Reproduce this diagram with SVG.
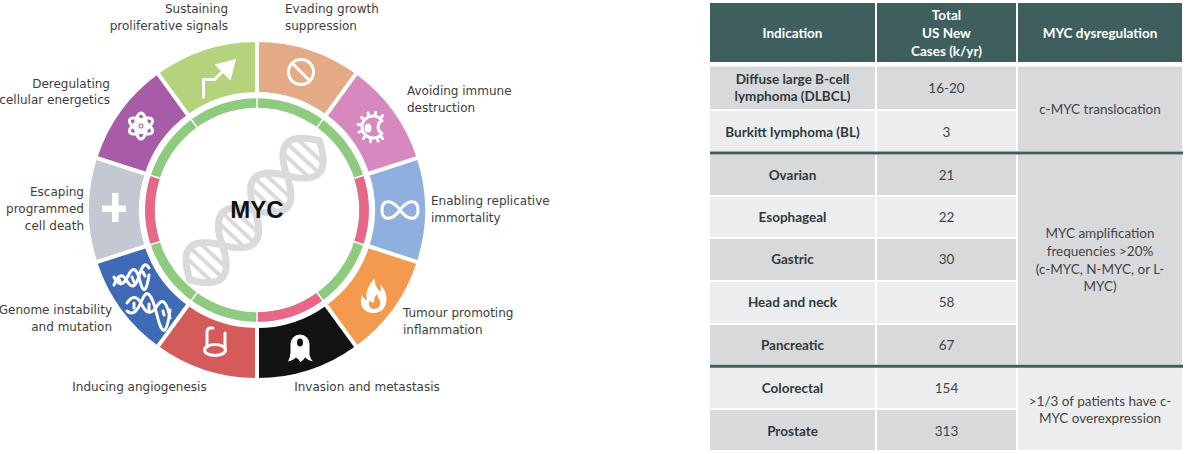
<svg xmlns="http://www.w3.org/2000/svg" width="1188" height="454" viewBox="0 0 1188 454">
<style>
.lbl{font-family:"DejaVu Sans",Verdana,sans-serif;font-size:12px;fill:#3d3d3d}
.r{text-anchor:end}
.ic{fill:none;stroke:#fff;stroke-width:3;stroke-linecap:round;stroke-linejoin:round}
.icf{fill:#fff}
.sep{stroke:#fff;stroke-width:4}
.rsep{stroke:#fff;stroke-width:1.5}
.th{font-family:Lato,"Liberation Sans",sans-serif;font-size:13.5px;font-weight:bold;fill:#fff;text-anchor:middle}
.tb{font-family:Lato,"Liberation Sans",sans-serif;font-size:13.5px;font-weight:bold;fill:#2f3a3a;text-anchor:middle}
.tn{font-family:Lato,"Liberation Sans",sans-serif;font-size:13.5px;fill:#454545;text-anchor:middle}
.dk{fill:#d8d9db}
.lt{fill:#ecedef}
.hd{fill:#3e5f5e}
.bar{stroke:#3e5c5b;stroke-width:3}
</style>
<rect width="1188" height="454" fill="#fff"/>

<!-- DNA watermark -->
<g id="dna" fill="none" stroke="#dadada" stroke-linecap="round">
<path stroke-width="7" d="M190 280 Q238.4 292.51 222.3 245.18 Q206.2 197.85 254.6 210.37 Q303 222.88 286.9 175.55 Q270.8 128.22 319.2 140.73"/>
<path stroke-width="7" d="M190 280 Q173.9 232.67 222.3 245.18 Q270.7 257.69 254.6 210.37 Q238.5 163.04 286.9 175.55 Q335.3 188.06 319.2 140.73"/>
<path stroke-width="4" d="M210.42 280.19L188.28 259.65M220.08 275.51L192.22 249.67M224.02 265.53L201.88 244.99M242.72 245.37L220.58 224.83M252.38 240.69L224.52 214.85M256.32 230.71L234.18 210.17M275.02 210.56L252.88 190.02M284.68 205.88L256.82 180.04M288.62 195.9L266.48 175.36M307.32 175.74L285.18 155.2M316.98 171.06L289.12 145.22M320.92 161.08L298.78 140.54"/>
</g>

<!-- inner ring -->
<g id="ring">
<circle cx="257" cy="210" r="107" fill="none" stroke="#8fcb7f" stroke-width="9.5"/>
<g fill="none" stroke="#e8668a" stroke-width="9.5">
<path d="M358.77 176.94A107 107 0 0 1 358.77 243.06"/>
<path d="M319.89 296.56A107 107 0 0 1 257 317"/>
<path d="M155.23 243.06A107 107 0 0 1 155.23 176.94"/>
</g>
<g class="rsep">
<line x1="257" y1="109" x2="257" y2="97"/>
<line x1="316.37" y1="128.29" x2="323.42" y2="118.58"/>
<line x1="353.06" y1="178.79" x2="364.47" y2="175.08"/>
<line x1="353.06" y1="241.21" x2="364.47" y2="244.92"/>
<line x1="316.37" y1="291.71" x2="323.42" y2="301.42"/>
<line x1="257" y1="311" x2="257" y2="323"/>
<line x1="197.63" y1="291.71" x2="190.58" y2="301.42"/>
<line x1="160.94" y1="241.21" x2="149.53" y2="244.92"/>
<line x1="160.94" y1="178.79" x2="149.53" y2="175.08"/>
<line x1="197.63" y1="128.29" x2="190.58" y2="118.58"/>
</g>
</g>

<text id="myc" x="257" y="218" text-anchor="middle" font-family="'Liberation Sans',Arial,sans-serif" font-size="24" font-weight="bold" fill="#111">MYC</text>

<g id="evading">
<path fill="#e3aa85" d="M257 42A168 168 0 0 1 355.75 74.09L326.36 114.54A118 118 0 0 0 257 92Z"/>
<circle class="ic" cx="301" cy="72" r="12.5" stroke-width="3.5"/>
<line class="ic" x1="292.2" y1="63.2" x2="309.8" y2="80.8" stroke-width="3.5"/>
<text class="lbl" x="285" y="13">Evading growth</text>
<text class="lbl" x="285" y="30">suppression</text>
</g>

<g id="avoiding">
<path fill="#d688bf" d="M355.75 74.09A168 168 0 0 1 416.78 158.09L369.23 173.54A118 118 0 0 0 326.36 114.54Z"/>
<path class="ic" stroke-width="2.5" d="M382 120.7A11 11 0 1 0 382 133.3A7 7 0 0 1 382 120.7Z"/>
<path class="ic" stroke-width="1.5" d="M381 117.4L382.6 115.5M375.2 114.7L375.6 112.2M368.7 115.3L367.9 112.9M363.4 119L361.5 117.4M360.7 124.8L358.2 124.4M361.3 131.3L358.9 132.1M365 136.6L363.4 138.5M370.8 139.3L370.4 141.8M377.3 138.7L378.1 141.1M381 136.6L382.6 138.5"/>
<ellipse class="icf" cx="368" cy="128" rx="3.5" ry="4.5"/>
<text class="lbl" x="407" y="95">Avoiding immune</text>
<text class="lbl" x="407" y="112">destruction</text>
</g>

<g id="enabling">
<path fill="#8fb0df" d="M416.78 158.09A168 168 0 0 1 416.78 261.91L369.23 246.46A118 118 0 0 0 369.23 173.54Z"/>
<path class="ic" stroke-width="4" d="M400 210C408 199 418 199 418 210C418 221 408 221 400 210C392 199 382 199 382 210C382 221 392 221 400 210Z"/>
<text class="lbl" x="431" y="205">Enabling replicative</text>
<text class="lbl" x="431" y="222">immortality</text>
</g>

<g id="tumour">
<path fill="#f39a4e" d="M416.78 261.91A168 168 0 0 1 355.75 345.91L326.36 305.46A118 118 0 0 0 369.23 246.46Z"/>
<path class="icf" d="M372 313C362 312 359 303 362 295C364 299 366 300 367 300C365 293 368 285 375 278C374 285 378 289 380 292C381 289 381 287 380 284C386 290 389 300 384 308C381 312 377 313 372 313Z"/>
<path fill="#f39a4e" d="M373 309C369 308 368 304 370 300C371 303 373 303 374 302C374 298 375 296 377 294C378 298 381 301 380 305C379 308 376 309 373 309Z"/>
<text class="lbl" x="403" y="317">Tumour promoting</text>
<text class="lbl" x="403" y="334">inflammation</text>
</g>

<g id="invasion">
<path fill="#121212" d="M355.75 345.91A168 168 0 0 1 257 378L257 328A118 118 0 0 0 326.36 305.46Z"/>
<path class="icf" d="M290.5 344A9.5 9.5 0 0 1 309.5 344L309.5 355Q310.5 359 313 361.5Q308 360.5 305 357.5Q303 361 300.5 362Q298.5 358.5 296 357.5Q292.5 361 288 361.5Q290.5 357 290.5 352Z"/>
<ellipse cx="300" cy="342.5" rx="3" ry="4" fill="#121212"/>
<text class="lbl" x="367" y="391" text-anchor="middle">Invasion and metastasis</text>
</g>

<g id="inducing">
<path fill="#d55a5a" d="M257 378A168 168 0 0 1 158.25 345.91L187.64 305.46A118 118 0 0 0 257 328Z"/>
<path class="ic" d="M207 347L207 332Q207 328 211 328L213 328M225 333L225 348"/>
<ellipse class="ic" cx="215" cy="350" rx="10.5" ry="5.5"/>
<text class="lbl" x="139.5" y="391" text-anchor="middle">Inducing angiogenesis</text>
</g>

<g id="genome">
<path fill="#3f6bb6" d="M158.25 345.91A168 168 0 0 1 97.22 261.91L144.77 246.46A118 118 0 0 0 187.64 305.46Z"/>
<path class="ic" stroke-width="1.8" d="M114 285Q120 269 127 281T139 276T149 268M114 277Q121 291 128 276T140 281T149 275M119 279L121 284M132 277L134 282M143 272L145 276"/>
<path class="ic" stroke-width="1.8" d="M127 303Q135 291 142 305T157 306T170 318M127 311Q135 318 142 300T157 315T170 310M134 303L134 308M149 304L149 311M163 311L164 315"/>
<text class="lbl r" x="112" y="314">Genome instability</text>
<text class="lbl r" x="112" y="331">and mutation</text>
</g>

<g id="escaping">
<path fill="#c3c8d3" d="M97.22 261.91A168 168 0 0 1 97.22 158.09L144.77 173.54A118 118 0 0 0 144.77 246.46Z"/>
<rect class="icf" x="112" y="193" width="6.5" height="29"/>
<rect class="icf" x="102" y="205.5" width="24" height="6.5"/>
<text class="lbl r" x="84" y="196">Escaping</text>
<text class="lbl r" x="84" y="213">programmed</text>
<text class="lbl r" x="84" y="230">cell death</text>
</g>

<g id="deregulating">
<path fill="#a65ca6" d="M97.22 158.09A168 168 0 0 1 158.25 74.09L187.64 114.54A118 118 0 0 0 144.77 173.54Z"/>
<g class="ic" stroke-width="2.2">
<ellipse cx="141" cy="126" rx="13" ry="5.5" transform="rotate(90 141 126)"/>
<ellipse cx="141" cy="126" rx="13" ry="5.5" transform="rotate(30 141 126)"/>
<ellipse cx="141" cy="126" rx="13" ry="5.5" transform="rotate(150 141 126)"/>
<circle cx="141" cy="126" r="4"/>
</g>
<circle class="icf" cx="141" cy="126" r="1.5"/>
<text class="lbl r" x="110" y="88">Deregulating</text>
<text class="lbl r" x="110" y="104">cellular energetics</text>
</g>

<g id="sustaining">
<path fill="#b5d37d" d="M158.25 74.09A168 168 0 0 1 257 42L257 92A118 118 0 0 0 187.64 114.54Z"/>
<path class="ic" stroke-width="6" stroke-linecap="butt" stroke-linejoin="miter" d="M203.5 97L203.5 79.5L214.5 79.5L223 71"/>
<polygon class="icf" points="236,59 214.5,64.5 230.5,80.5"/>
<text class="lbl r" x="228" y="13">Sustaining</text>
<text class="lbl r" x="228" y="30">proliferative signals</text>
</g>

<!-- segment separators -->
<g id="connectors" class="sep">
<line x1="257" y1="96" x2="257" y2="38"/>
<line x1="324.01" y1="117.77" x2="358.1" y2="70.85"/>
<line x1="365.43" y1="174.77" x2="420.59" y2="156.85"/>
<line x1="365.43" y1="245.23" x2="420.59" y2="263.15"/>
<line x1="324.01" y1="302.23" x2="358.1" y2="349.15"/>
<line x1="257" y1="324" x2="257" y2="382"/>
<line x1="189.99" y1="302.23" x2="155.9" y2="349.15"/>
<line x1="148.57" y1="245.23" x2="93.41" y2="263.15"/>
<line x1="148.57" y1="174.77" x2="93.41" y2="156.85"/>
<line x1="189.99" y1="117.77" x2="155.9" y2="70.85"/>
</g>

<!-- table -->
<g id="table-header">
<rect class="hd" x="710" y="3" width="165" height="59"/>
<rect class="hd" x="877" y="3" width="139" height="59"/>
<rect class="hd" x="1018" y="3" width="164" height="59"/>
<text class="th" x="792.5" y="38">Indication</text>
<text class="th" x="946.5" y="20">Total</text>
<text class="th" x="946.5" y="38">US New</text>
<text class="th" x="946.5" y="56">Cases (k/yr)</text>
<text class="th" x="1100" y="38">MYC dysregulation</text>
</g>

<g id="row-dlbcl">
<rect class="dk" x="710" y="66.5" width="165" height="42.5"/>
<rect class="dk" x="877" y="66.5" width="139" height="42.5"/>
<text class="tb" x="792.5" y="84">Diffuse large B-cell</text>
<text class="tb" x="792.5" y="101">lymphoma (DLBCL)</text>
<text class="tn" x="946.5" y="93">16-20</text>
</g>
<g id="row-bl">
<rect class="lt" x="710" y="111" width="165" height="40"/>
<rect class="lt" x="877" y="111" width="139" height="40"/>
<text class="tb" x="792.5" y="137">Burkitt lymphoma (BL)</text>
<text class="tn" x="946.5" y="137">3</text>
</g>
<g id="cell-translocation">
<rect class="dk" x="1018" y="66.5" width="164" height="84.5"/>
<text class="tn" x="1100" y="114">c-MYC translocation</text>
</g>

<g id="row-ovarian">
<rect class="dk" x="710" y="155" width="165" height="40"/>
<rect class="dk" x="877" y="155" width="139" height="40"/>
<text class="tb" x="792.5" y="180">Ovarian</text>
<text class="tn" x="946.5" y="180">21</text>
</g>
<g id="row-esophageal">
<rect class="lt" x="710" y="197" width="165" height="40"/>
<rect class="lt" x="877" y="197" width="139" height="40"/>
<text class="tb" x="792.5" y="222">Esophageal</text>
<text class="tn" x="946.5" y="222">22</text>
</g>
<g id="row-gastric">
<rect class="dk" x="710" y="239" width="165" height="41"/>
<rect class="dk" x="877" y="239" width="139" height="41"/>
<text class="tb" x="792.5" y="264">Gastric</text>
<text class="tn" x="946.5" y="264">30</text>
</g>
<g id="row-headneck">
<rect class="lt" x="710" y="282" width="165" height="41"/>
<rect class="lt" x="877" y="282" width="139" height="41"/>
<text class="tb" x="792.5" y="307">Head and neck</text>
<text class="tn" x="946.5" y="307">58</text>
</g>
<g id="row-pancreatic">
<rect class="dk" x="710" y="325" width="165" height="39.5"/>
<rect class="dk" x="877" y="325" width="139" height="39.5"/>
<text class="tb" x="792.5" y="350">Pancreatic</text>
<text class="tn" x="946.5" y="350">67</text>
</g>
<g id="cell-amplification">
<rect class="dk" x="1018" y="155" width="164" height="209.5"/>
<text class="tn" x="1100" y="238">MYC amplification</text>
<text class="tn" x="1100" y="256">frequencies &gt;20%</text>
<text class="tn" x="1100" y="274">(c-MYC, N-MYC, or L-</text>
<text class="tn" x="1100" y="291">MYC)</text>
</g>

<g id="row-colorectal">
<rect class="lt" x="710" y="368" width="165" height="40"/>
<rect class="lt" x="877" y="368" width="139" height="40"/>
<text class="tb" x="792.5" y="393">Colorectal</text>
<text class="tn" x="946.5" y="393">154</text>
</g>
<g id="row-prostate">
<rect class="dk" x="710" y="410" width="165" height="40"/>
<rect class="dk" x="877" y="410" width="139" height="40"/>
<text class="tb" x="792.5" y="436">Prostate</text>
<text class="tn" x="946.5" y="436">313</text>
</g>
<g id="cell-overexpression">
<rect class="lt" x="1018" y="368" width="164" height="82"/>
<text class="tn" x="1100" y="406">&gt;1/3 of patients have c-</text>
<text class="tn" x="1100" y="423">MYC overexpression</text>
</g>

<g id="dividers">
<line class="bar" x1="710" y1="153" x2="1183" y2="153"/>
<line class="bar" x1="710" y1="366.2" x2="1183" y2="366.2"/>
</g>
</svg>
